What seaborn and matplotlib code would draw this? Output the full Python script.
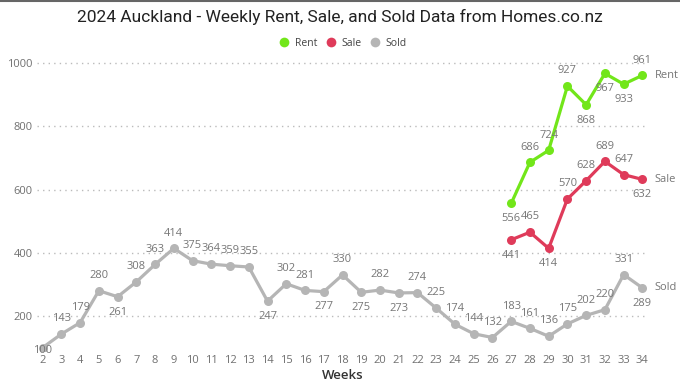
import numpy as np
import pandas as pd
import seaborn as sns
import matplotlib.pyplot as plt
from matplotlib.lines import Line2D

# data
sold_weeks = list(range(2, 35))
sold = [100, 143, 179, 280, 261, 308, 363, 414, 375, 364, 359, 355, 247, 302, 281, 277,
        330, 275, 282, 273, 274, 225, 174, 144, 132, 183, 161, 136, 175, 202, 220, 331, 289]
rent_weeks = list(range(27, 35))
rent = [556, 686, 724, 927, 868, 967, 933, 961]
sale_weeks = list(range(27, 35))
sale = [441, 465, 414, 570, 628, 689, 647, 632]

# label placement (a = above, b = below, c = centre)
sold_pos = list("caaab" + "aaaaaaa" + "b" + "aa" + "b" + "a" + "b" + "a" + "b" + "a" * 12 + "b")
rent_pos = list("baaabbba")
sale_pos = list("babaaaab")

colors = {"Rent": "#72E61A", "Sale": "#DF3B5A", "Sold": "#B5B5B5"}

df = pd.concat([
    pd.DataFrame({"Week": rent_weeks, "Value": rent, "Series": "Rent"}),
    pd.DataFrame({"Week": sale_weeks, "Value": sale, "Series": "Sale"}),
    pd.DataFrame({"Week": sold_weeks, "Value": sold, "Series": "Sold"}),
])

sns.set_theme(style="white")
plt.rcParams["font.family"] = ["Open Sans", "DejaVu Sans"]

fig = plt.figure(figsize=(6.8, 3.85), dpi=100)
ax = fig.add_axes([37 / 680, 0.0888, (648 - 37) / 680, 0.861 - 0.0888])

sns.lineplot(data=df, x="Week", y="Value", hue="Series", palette=colors,
             marker="o", markersize=6.5, markeredgewidth=0, linewidth=2.3,
             legend=False, ax=ax)

label_color = "#767676"
for weeks, vals, pos in [(sold_weeks, sold, sold_pos), (rent_weeks, rent, rent_pos),
                         (sale_weeks, sale, sale_pos)]:
    for w, v, p in zip(weeks, vals, pos):
        dy = {"a": 11, "b": -11, "c": -2}[p]
        ax.annotate(str(v), (w, v), xytext=(0, dy), textcoords="offset points",
                    ha="center", va="center", fontsize=8, color=label_color)

for name, weeks, vals in [("Rent", rent_weeks, rent), ("Sale", sale_weeks, sale),
                          ("Sold", sold_weeks, sold)]:
    ax.annotate(name, (weeks[-1], vals[-1]), xytext=(9, 0), textcoords="offset points",
                ha="left", va="center", fontsize=8, color=label_color,
                annotation_clip=False)

ax.set_xlim(1.7, 34.3)
ax.set_ylim(90, 1030)
ax.set_xticks(sold_weeks)
ax.set_yticks([200, 400, 600, 800, 1000])
ax.tick_params(axis="both", length=0, labelsize=8, labelcolor="#707070", pad=3)
ax.yaxis.grid(True, linestyle=(0, (1, 3)), color="#BBBBBB", linewidth=1)
ax.xaxis.grid(False)
for s in ax.spines.values():
    s.set_visible(False)
ax.set_ylabel("")
ax.set_xlabel("Weeks", fontsize=9.5, color="#333333", fontweight="semibold", labelpad=2)

fig.suptitle("2024 Auckland - Weekly Rent, Sale, and Sold Data from Homes.co.nz",
             y=0.978, fontsize=12.5, color="#222222", family=["Roboto", "DejaVu Sans"])

handles = [Line2D([], [], marker="o", linestyle="", markersize=7, markeredgewidth=0,
                  color=colors[k]) for k in ["Rent", "Sale", "Sold"]]
fig.legend(handles, ["Rent", "Sale", "Sold"], loc="center", bbox_to_anchor=(0.5, 1 - 43 / 385),
           ncol=3, frameon=False, fontsize=7.5, handletextpad=0.0, columnspacing=0.3,
           labelcolor="#444444")

fig.add_artist(Line2D([0, 1], [0.998, 0.998], color="#666666", linewidth=1.5,
                      transform=fig.transFigure))

fig.savefig("out.png", dpi=100)
